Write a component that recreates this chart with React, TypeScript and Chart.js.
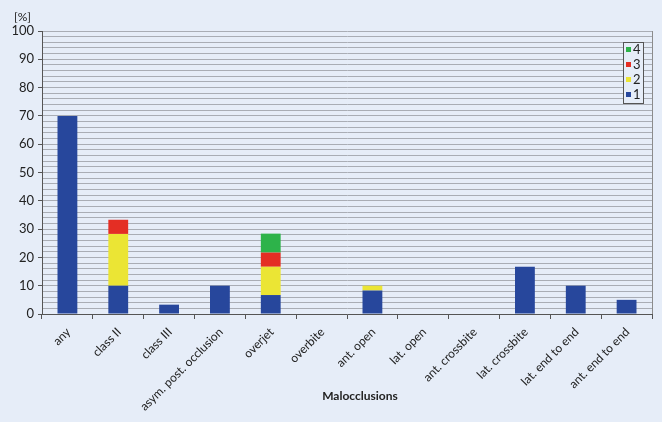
import React, { useEffect, useRef } from "react";
import { Chart, registerables } from "chart.js";

Chart.register(...registerables);

const categories = [
  "any",
  "class II",
  "class III",
  "asym. post. occlusion",
  "overjet",
  "overbite",
  "ant. open",
  "lat. open",
  "ant. crossbite",
  "lat. crossbite",
  "lat. end to end",
  "ant. end to end",
];

const series1 = [70, 10, 3.3, 10, 6.7, 0, 8.3, 0, 0, 16.7, 10, 5];
const series2 = [0, 18.3, 0, 0, 10, 0, 1.7, 0, 0, 0, 0, 0];
const series3 = [0, 5, 0, 0, 5, 0, 0, 0, 0, 0, 0, 0];
const series4 = [0, 0, 0, 0, 6.7, 0, 0, 0, 0, 0, 0, 0];

const seriesNames = ["1", "2", "3", "4"];
const seriesColors = ["#27479c", "#ebe534", "#e42e24", "#2db34a"];

const xTitle = "Malocclusions";
const yTitle = "[%]";

const FONT = "Lato, 'Noto Sans', sans-serif";

export default function App() {
  const ref = useRef<HTMLCanvasElement | null>(null);

  useEffect(() => {
    document.body.style.margin = "0";
    const canvas = ref.current;
    if (!canvas) return;

    const extras = {
      id: "extras",
      beforeDraw(chart: any) {
        const { ctx, width, height } = chart;
        ctx.save();
        ctx.fillStyle = "#e6edf8";
        ctx.fillRect(0, 0, width, height);
        ctx.restore();
      },
      afterDraw(chart: any) {
        const { ctx, chartArea } = chart;
        const xs = chart.scales.x;
        ctx.save();
        // right border
        ctx.strokeStyle = "#8c8c8c";
        ctx.lineWidth = 1;
        ctx.beginPath();
        ctx.moveTo(chartArea.right + 0.5, chartArea.top);
        ctx.lineTo(chartArea.right + 0.5, chartArea.bottom);
        ctx.stroke();
        // x labels
        ctx.fillStyle = "#222";
        ctx.font = `12px ${FONT}`;
        ctx.textAlign = "right";
        ctx.textBaseline = "middle";
        categories.forEach((c, i) => {
          const px = xs.getPixelForValue(i) + 1;
          const py = chartArea.bottom + 16;
          ctx.save();
          ctx.translate(px, py);
          ctx.rotate(-Math.PI / 4);
          ctx.fillText(c, 0, 0);
          ctx.restore();
        });
        // x title
        ctx.font = `bold 12px ${FONT}`;
        ctx.textAlign = "center";
        ctx.fillText(xTitle, 360, 396);
        // [%] label
        ctx.font = `12px ${FONT}`;
        ctx.textAlign = "left";
        ctx.fillText(yTitle, 14, 17);
        // legend
        const bx = 623, by = 42, bw = 20, bh = 61;
        ctx.fillStyle = "#e6edf8";
        ctx.fillRect(bx, by, bw, bh);
        ctx.strokeStyle = "#555";
        ctx.strokeRect(bx + 0.5, by + 0.5, bw, bh);
        ctx.font = `13px ${FONT}`;
        for (let i = 0; i < 4; i++) {
          const idx = 3 - i;
          const cy = by + 8 + i * 15;
          ctx.fillStyle = seriesColors[idx];
          ctx.fillRect(bx + 3, cy - 3, 5, 5);
          ctx.fillStyle = "#222";
          ctx.fillText(seriesNames[idx], bx + 10, cy);
        }
        ctx.restore();
      },
    };

    const chart = new Chart(canvas, {
      type: "bar",
      data: {
        labels: categories,
        datasets: [series1, series2, series3, series4].map((d, i) => ({
          label: seriesNames[i],
          data: d,
          backgroundColor: seriesColors[i],
          borderWidth: 0,
          barPercentage: 0.39,
          categoryPercentage: 1,
        })),
      },
      options: {
        animation: false,
        responsive: false,
        maintainAspectRatio: false,
        layout: { padding: { left: 0, top: 31, right: 10, bottom: 0 } },
        plugins: { legend: { display: false }, tooltip: { enabled: false } },
        scales: {
          x: {
            stacked: true,
            afterFit(scale: any) {
              scale.height = 108;
            },
            grid: {
              offset: true,
              drawOnChartArea: false,
              drawTicks: true,
              tickLength: 5,
              color: "#555",
            },
            border: { color: "#555", width: 1 },
            ticks: { display: false },
          },
          y: {
            stacked: true,
            min: 0,
            max: 100,
            afterFit(scale: any) {
              scale.width = 42;
            },
            grid: {
              color: "#a9adb5",
              lineWidth: 1,
              drawTicks: true,
              tickLength: 4,
              tickColor: (c: any) =>
                c.tick && c.tick.value % 10 === 0 ? "#555" : "rgba(0,0,0,0)",
            },
            border: { color: "#555", width: 1 },
            ticks: {
              stepSize: 2,
              autoSkip: false,
              color: "#222",
              font: { family: FONT, size: 13 },
              padding: 4,
              callback: (v: any) => (Number(v) % 10 === 0 ? String(v) : ""),
            },
          },
        },
      },
      plugins: [extras],
    } as any);

    return () => chart.destroy();
  }, []);

  return (
    <div style={{ position: "absolute", left: 0, top: 0, width: 662, height: 422 }}>
      <canvas ref={ref} width={662} height={422} style={{ width: 662, height: 422 }} />
    </div>
  );
}
